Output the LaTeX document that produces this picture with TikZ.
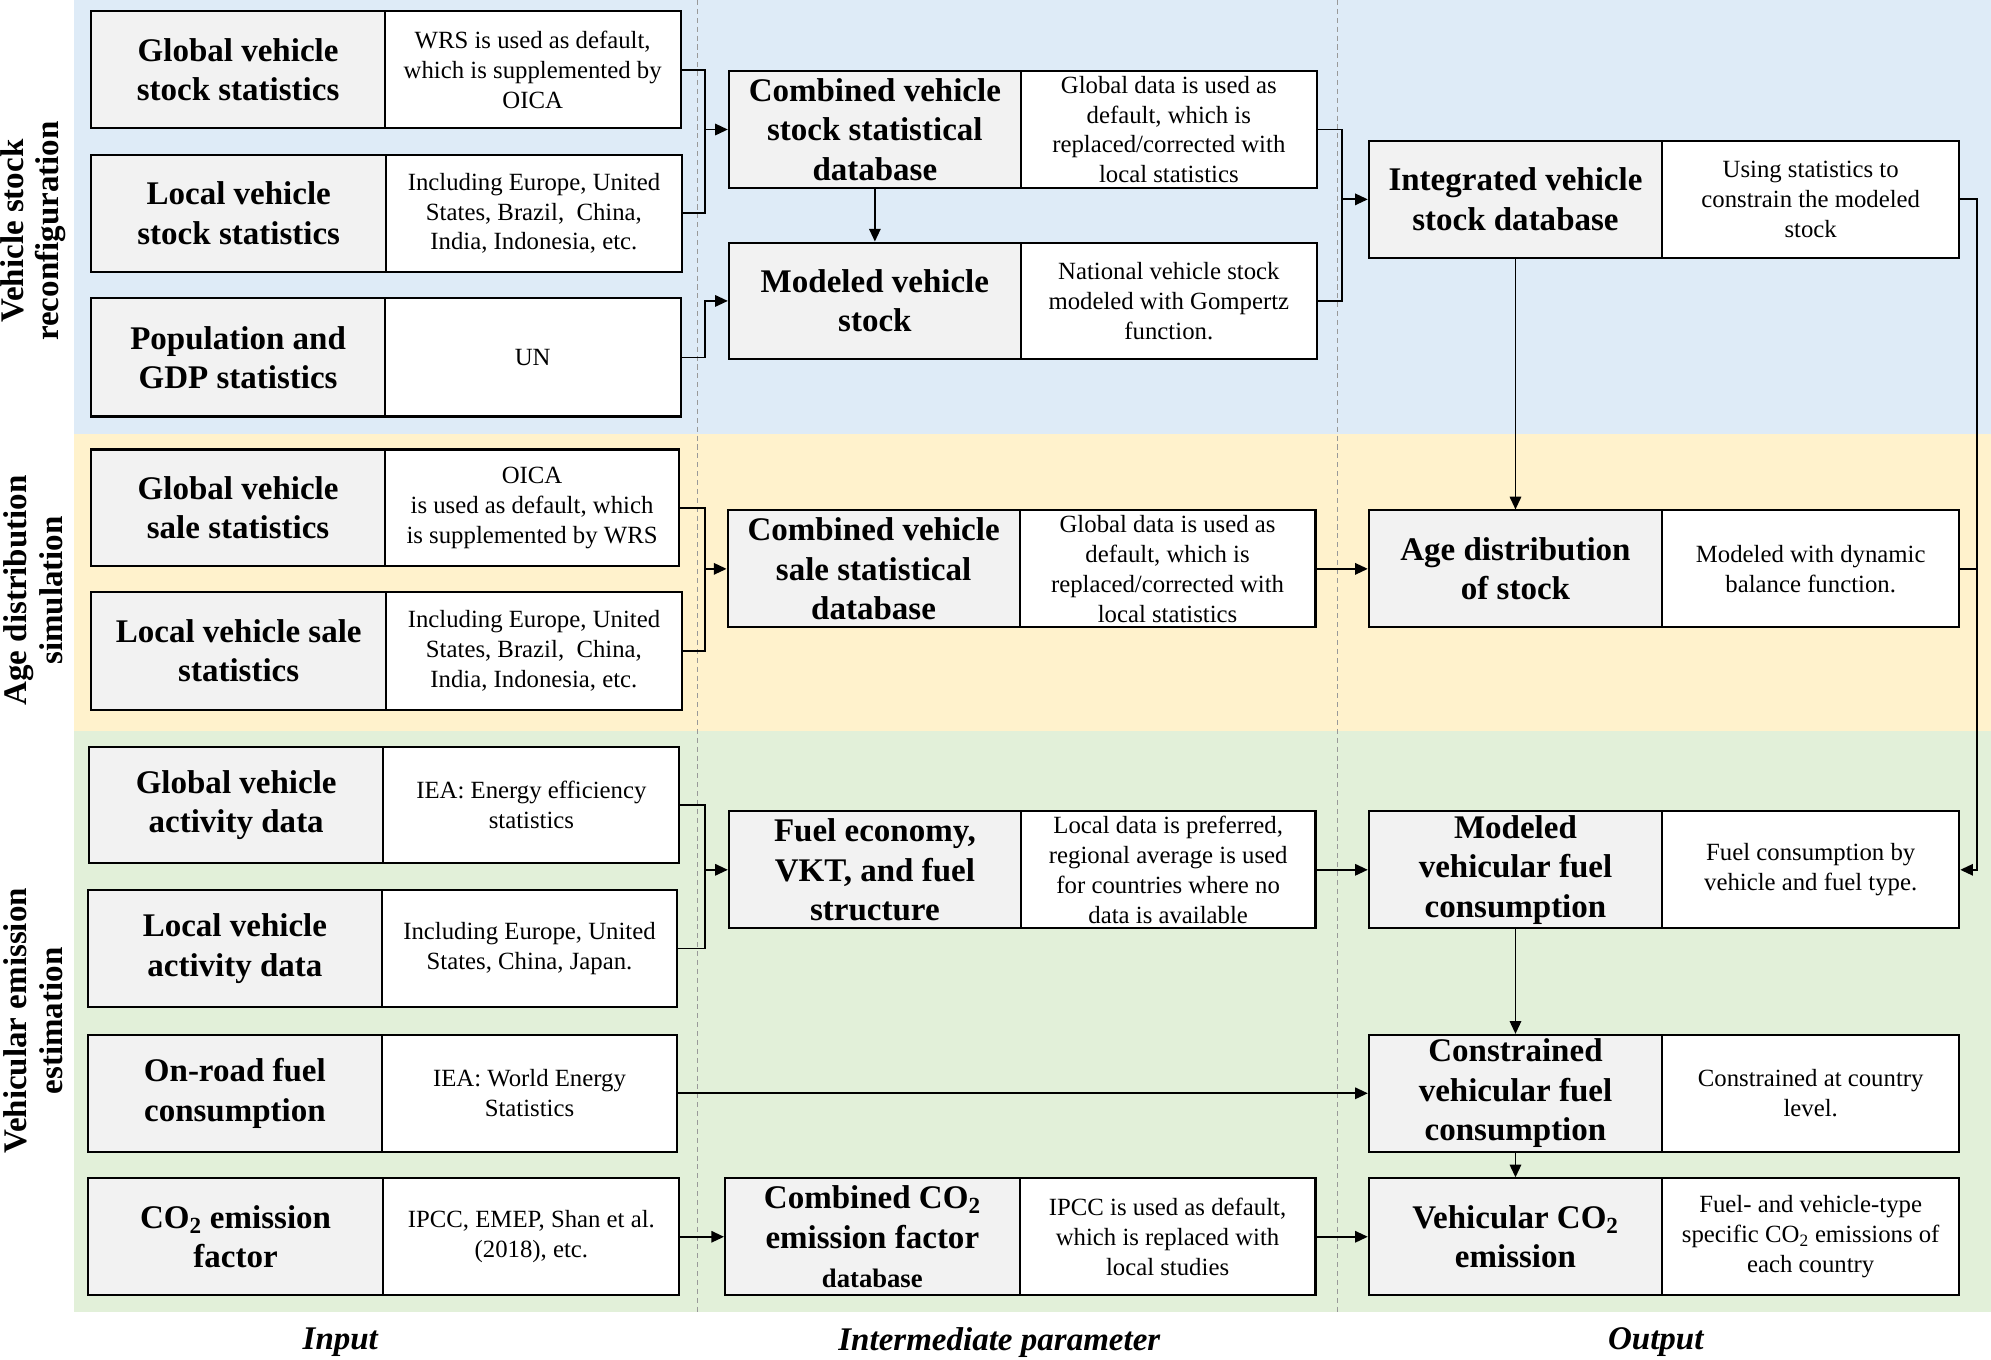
\documentclass[tikz,border=0pt]{standalone}
\usepackage{fontspec}
\setmainfont{Liberation Serif}
\usetikzlibrary{arrows.meta}
\definecolor{bandblue}{HTML}{DEEBF7}
\definecolor{bandyellow}{HTML}{FFF2CC}
\definecolor{bandgreen}{HTML}{E2F0D9}
\definecolor{boxgray}{HTML}{F2F2F2}
\newcommand\titlefont{\fontsize{26}{31}\selectfont\bfseries}
\newcommand\descfont{\fontsize{19.5}{23.5}\selectfont}
\newcommand\sidefont{\fontsize{26}{28}\selectfont\bfseries}
\newcommand\colfont{\fontsize{26}{30}\selectfont\bfseries\itshape}
\newcommand\mkbox[8]{%
  \node[titlebox, minimum width={#3-#2}, minimum height={#6-#5}] (#1) at ({(#2+#3)/2},{(#5+#6)/2}) {#7};
  \node[descbox, minimum width={#4-#3}, minimum height={#6-#5}] (#1d) at ({(#3+#4)/2},{(#5+#6)/2}) {#8};
}
\tikzset{
  titlebox/.style={draw, line width=1.6pt, fill=boxgray, inner sep=0pt, align=center, font=\titlefont},
  descbox/.style={draw, line width=1.6pt, fill=white, inner sep=0pt, align=center, font=\descfont},
  link/.style={line width=1.4pt},
  arr/.style={line width=1.4pt, -{Triangle[length=10pt,width=9pt]}},
  divider/.style={line width=0.7pt, gray!80, dash pattern=on 4pt off 3pt},
  sidelabel/.style={rotate=90, align=center, font=\sidefont, inner sep=0pt},
  collabel/.style={font=\colfont, inner sep=0pt}
}
\begin{document}
\begin{tikzpicture}[x=1pt,y=-1pt]
\useasboundingbox (0,0) rectangle (1568,1071);
% bands
\fill[bandblue] (58,0) rectangle (1568,342);
\fill[bandyellow] (58,342) rectangle (1568,576);
\fill[bandgreen] (58,576) rectangle (1568,1033);
% dividers
\draw[divider] (549,0) -- (549,1033);
\draw[divider] (1053,0) -- (1053,1033);
% side labels
\node[sidelabel] (s1) at (26,182) {Vehicle stock\\reconfiguration};
\node[sidelabel] (s2) at (26,465) {Age distribution\\simulation};
\node[sidelabel] (s3) at (26,804) {Vehicular emission\\estimation};
% column labels
\node[collabel] (c1) at (268,1057) {Input};
\node[collabel] (c2) at (787,1057) {Intermediate parameter};
\node[collabel] (c3) at (1304,1057) {Output};
% input boxes
\mkbox{r1}{72}{303}{536}{9}{101}{Global vehicle\\stock statistics}{WRS is used as default,\\which is supplemented by\\OICA}
\mkbox{r2}{72}{304}{537}{122}{214}{Local vehicle\\stock statistics}{Including Europe, United\\States, Brazil,\ \ China,\\India, Indonesia, etc.}
\mkbox{r3}{72}{303}{536}{235}{328}{Population and\\GDP statistics}{UN}
\mkbox{r4}{72}{303}{535}{354}{446}{Global vehicle\\sale statistics}{OICA\\is used as default, which\\is supplemented by WRS}
\mkbox{r5}{72}{304}{537}{466}{559}{Local vehicle sale\\statistics}{Including Europe, United\\States, Brazil,\ \ China,\\India, Indonesia, etc.}
\mkbox{r6}{70}{302}{535}{588}{680}{Global vehicle\\activity data}{IEA: Energy efficiency\\statistics}
\mkbox{r7}{69}{301}{533}{701}{793}{Local vehicle\\activity data}{Including Europe, United\\States, China, Japan.}
\mkbox{r8}{69}{301}{533}{815}{907}{On-road fuel\\consumption}{IEA:\ World Energy\\Statistics}
\mkbox{r9}{69}{302}{535}{928}{1020}{CO\textsubscript{2} emission\\factor}{IPCC, EMEP, Shan et al.\\(2018),\ etc.}
% intermediate boxes
\mkbox{m1}{574}{804}{1037}{56}{148}{Combined vehicle\\stock statistical\\database}{Global data is used as\\default, which is\\replaced/corrected with\\local statistics}
\mkbox{m2}{574}{804}{1037}{191}{283}{Modeled vehicle\\stock}{National vehicle stock\\modeled with Gompertz\\function.}
\mkbox{m3}{573}{803}{1036}{402}{494}{Combined vehicle\\sale statistical\\database}{Global data is used as\\default, which is\\replaced/corrected with\\local statistics}
\mkbox{m4}{574}{804}{1036}{639}{731}{Fuel economy,\\VKT, and fuel\\structure}{Local data is preferred,\\regional average is used\\for countries where no\\data is available}
\mkbox{m5}{571}{803}{1036}{928}{1020}{Combined CO\textsubscript{2}\\emission factor\\{\fontsize{21}{25}\selectfont database}}{IPCC is used as default,\\which is replaced with\\local studies}
% output boxes
\mkbox{o1}{1078}{1309}{1543}{111}{203}{Integrated vehicle\\stock database}{Using statistics to\\constrain the modeled\\stock}
\mkbox{o2}{1078}{1309}{1543}{402}{494}{Age distribution\\of stock}{Modeled with dynamic\\balance function.}
\mkbox{o3}{1078}{1309}{1543}{639}{731}{Modeled\\vehicular fuel\\consumption}{Fuel consumption by\\vehicle and fuel type.}
\mkbox{o4}{1078}{1309}{1543}{815}{907}{Constrained\\vehicular fuel\\consumption}{Constrained at country\\level.}
\mkbox{o5}{1078}{1309}{1543}{928}{1020}{Vehicular CO\textsubscript{2}\\emission}{Fuel- and vehicle-type\\specific CO\textsubscript{2} emissions of\\each country}
% junction columns
\coordinate (j1) at (555,0);
\coordinate (j2) at (1057,0);
\coordinate (j3) at (1557,0);
% connectors: stock
\draw[link] (r1d.east) -- (j1 |- r1d.east) |- (r2d.east);
\draw[arr] (j1 |- m1.west) -- (m1.west);
\draw[arr] (r3d.east) -- (j1 |- r3d.east) |- (m2.west);
\draw[arr] (m1.south) -- (m2.north);
\draw[link] (m1d.east) -- (j2 |- m1d.east) |- (m2d.east);
\draw[arr] (j2 |- o1.west) -- (o1.west);
\draw[arr] (o1.south) -- (o2.north);
\draw[arr] (o1d.east) -- (j3 |- o1d.east) |- (o3d.east);
\draw[link] (o2d.east) -- (j3 |- o2d.east);
% connectors: sale
\draw[link] (r4d.east) -- (j1 |- r4d.east) |- (r5d.east);
\draw[arr] (j1 |- m3.west) -- (m3.west);
\draw[arr] (m3d.east) -- (o2.west);
% connectors: emission
\draw[link] (r6d.east) -- (j1 |- r6d.east) |- (r7d.east);
\draw[arr] (j1 |- m4.west) -- (m4.west);
\draw[arr] (m4d.east) -- (o3.west);
\draw[arr] (o3.south) -- (o4.north);
\draw[arr] (r8d.east) -- (o4.west);
\draw[arr] (o4.south) -- (o5.north);
\draw[arr] (r9d.east) -- (m5.west);
\draw[arr] (m5d.east) -- (o5.west);
\end{tikzpicture}
\end{document}
